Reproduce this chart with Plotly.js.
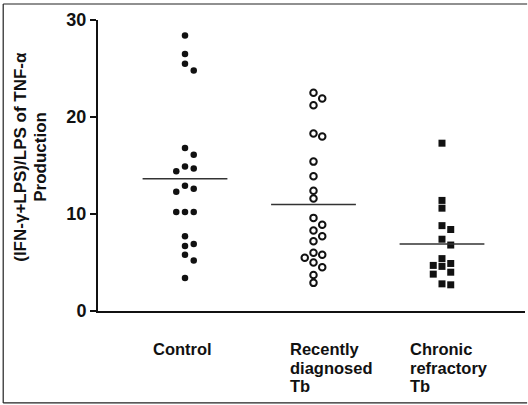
<!DOCTYPE html>
<html>
<head>
<meta charset="utf-8">
<script src="https://cdn.plot.ly/plotly-3.0.1.min.js"></script>
<style>
html,body{margin:0;padding:0;background:#fff;}
#chart{width:528px;height:405px;}
</style>
</head>
<body>
<div id="chart"></div>
<script>
// ---- data ----
var categories = ["Control", "Recently diagnosed Tb", "Chronic refractory Tb"];
var categoryLabelLines = [["Control"], ["Recently", "diagnosed", "Tb"], ["Chronic", "refractory", "Tb"]];
var controlValues = [28.4, 26.5, 25.5, 24.8, 16.8, 16.1, 14.9, 14.7, 14.4, 12.9, 12.6, 12.3,
                     10.2, 10.2, 10.2, 7.7, 6.9, 6.7, 5.8, 5.2, 3.4];
var recentValues = [22.5, 21.9, 21.2, 18.3, 18.0, 15.4, 13.9, 12.4, 11.6, 9.6, 8.9, 8.3,
                    7.7, 7.2, 6.0, 5.8, 5.5, 5.0, 4.5, 3.7, 2.9];
var chronicValues = [17.3, 11.4, 10.6, 8.8, 8.4, 7.4, 6.8, 5.4, 4.9, 4.7, 4.6, 4.0, 3.8, 2.8, 2.7];
var yTicks = [0, 10, 20, 30];
var yTitleLines = ["(IFN-γ+LPS)/LPS of TNF-α", "Production"];

// ---- layout helpers ----
var laneStep = 0.068;      // horizontal spacing of side-by-side dots (axis units)
var minGap = 0.8;          // vertical clearance (value units) before a dot moves aside
var laneOrder = [0, 1, -1, 2, -2];

function swarm(values, center) {
  var idx = values.map(function (v, i) { return i; });
  idx.sort(function (a, b) { return values[b] - values[a]; });
  var placed = {};
  var xs = new Array(values.length);
  idx.forEach(function (i) {
    var v = values[i];
    for (var k = 0; k < laneOrder.length; k++) {
      var lane = laneOrder[k];
      var list = placed[lane] || (placed[lane] = []);
      var ok = list.every(function (w) { return Math.abs(w - v) >= minGap; });
      if (ok) { list.push(v); xs[i] = center + lane * laneStep; return; }
    }
    xs[i] = center;
  });
  return xs;
}
function mean(a) { return a.reduce(function (s, v) { return s + v; }, 0) / a.length; }

var groups = [controlValues, recentValues, chronicValues];
var markers = [
  {symbol: "circle", size: 6.5, color: "#111", line: {width: 0}},
  {symbol: "circle-open", size: 6.5, color: "#111", line: {width: 2, color: "#111"}},
  {symbol: "square", size: 7, color: "#111", line: {width: 0}}
];

var traces = [];
groups.forEach(function (vals, g) {
  traces.push({
    type: "scatter", mode: "markers", name: categories[g],
    x: swarm(vals, g), y: vals, marker: markers[g], hoverinfo: "y"
  });
  var m = mean(vals);
  traces.push({
    type: "scatter", mode: "lines", name: categories[g] + " mean",
    x: [g - 0.33, g + 0.33], y: [m, m],
    line: {color: "#333", width: 1.5}, hoverinfo: "skip"
  });
});

var fam = "Liberation Sans, Arial, sans-serif";
var ink = "#111";

var labelShift = [-2, -24, -33];
var labelAnchor = ["center", "left", "left"];
var lineGap = 18.5;
var annotations = [];
categoryLabelLines.forEach(function (lines, i) {
  lines.forEach(function (t, j) {
    annotations.push({
      text: "<b>" + t + "</b>", x: i, xref: "x", y: 0, yref: "paper",
      yshift: -38 - j * lineGap, xshift: labelShift[i], xanchor: labelAnchor[i], yanchor: "middle",
      borderpad: 0, showarrow: false, font: {family: fam, size: 16.5, color: ink}
    });
  });
});
var titleX = [-0.1803, -0.1335];
yTitleLines.forEach(function (t, j) {
  annotations.push({
    text: "<b>" + t + "</b>", x: titleX[j], xref: "paper", y: 0.53, yref: "paper",
    xanchor: "center", yanchor: "middle", textangle: -90, showarrow: false,
    borderpad: 0, font: {family: fam, size: 17, color: ink}
  });
});

var frameLine = {color: "#222", width: 1.2};
var shapes = [
  {type: "line", xref: "paper", yref: "paper", x0: -0.222, x1: 1.005, y0: 1.055, y1: 1.055, line: frameLine},
  {type: "line", xref: "paper", yref: "paper", x0: -0.222, x1: 1.005, y0: -0.316, y1: -0.316, line: frameLine},
  {type: "line", xref: "paper", yref: "paper", x0: -0.222, x1: -0.222, y0: -0.316, y1: 1.055, line: frameLine}
];

var layout = {
  width: 528, height: 405,
  margin: {l: 98, r: 3, t: 20, b: 94},
  paper_bgcolor: "#fff", plot_bgcolor: "#fff",
  showlegend: false,
  font: {family: fam, color: ink},
  xaxis: {
    range: [-0.677, 2.646], showgrid: false, zeroline: false,
    showticklabels: false, ticks: "", showline: true,
    linecolor: ink, linewidth: 2, fixedrange: true
  },
  yaxis: {
    range: [0, 30], tickvals: yTicks, ticktext: yTicks.map(function (v) { return "<b>" + v + "</b>"; }),
    showgrid: false, zeroline: false, showline: true, linecolor: ink, linewidth: 2,
    ticks: "outside", ticklen: 6, tickwidth: 2, tickcolor: ink,
    tickfont: {family: fam, size: 18, color: ink},
    automargin: false, fixedrange: true
  },
  annotations: annotations,
  shapes: shapes
};

Plotly.newPlot("chart", traces, layout, {displayModeBar: false, staticPlot: true});
</script>
</body>
</html>
